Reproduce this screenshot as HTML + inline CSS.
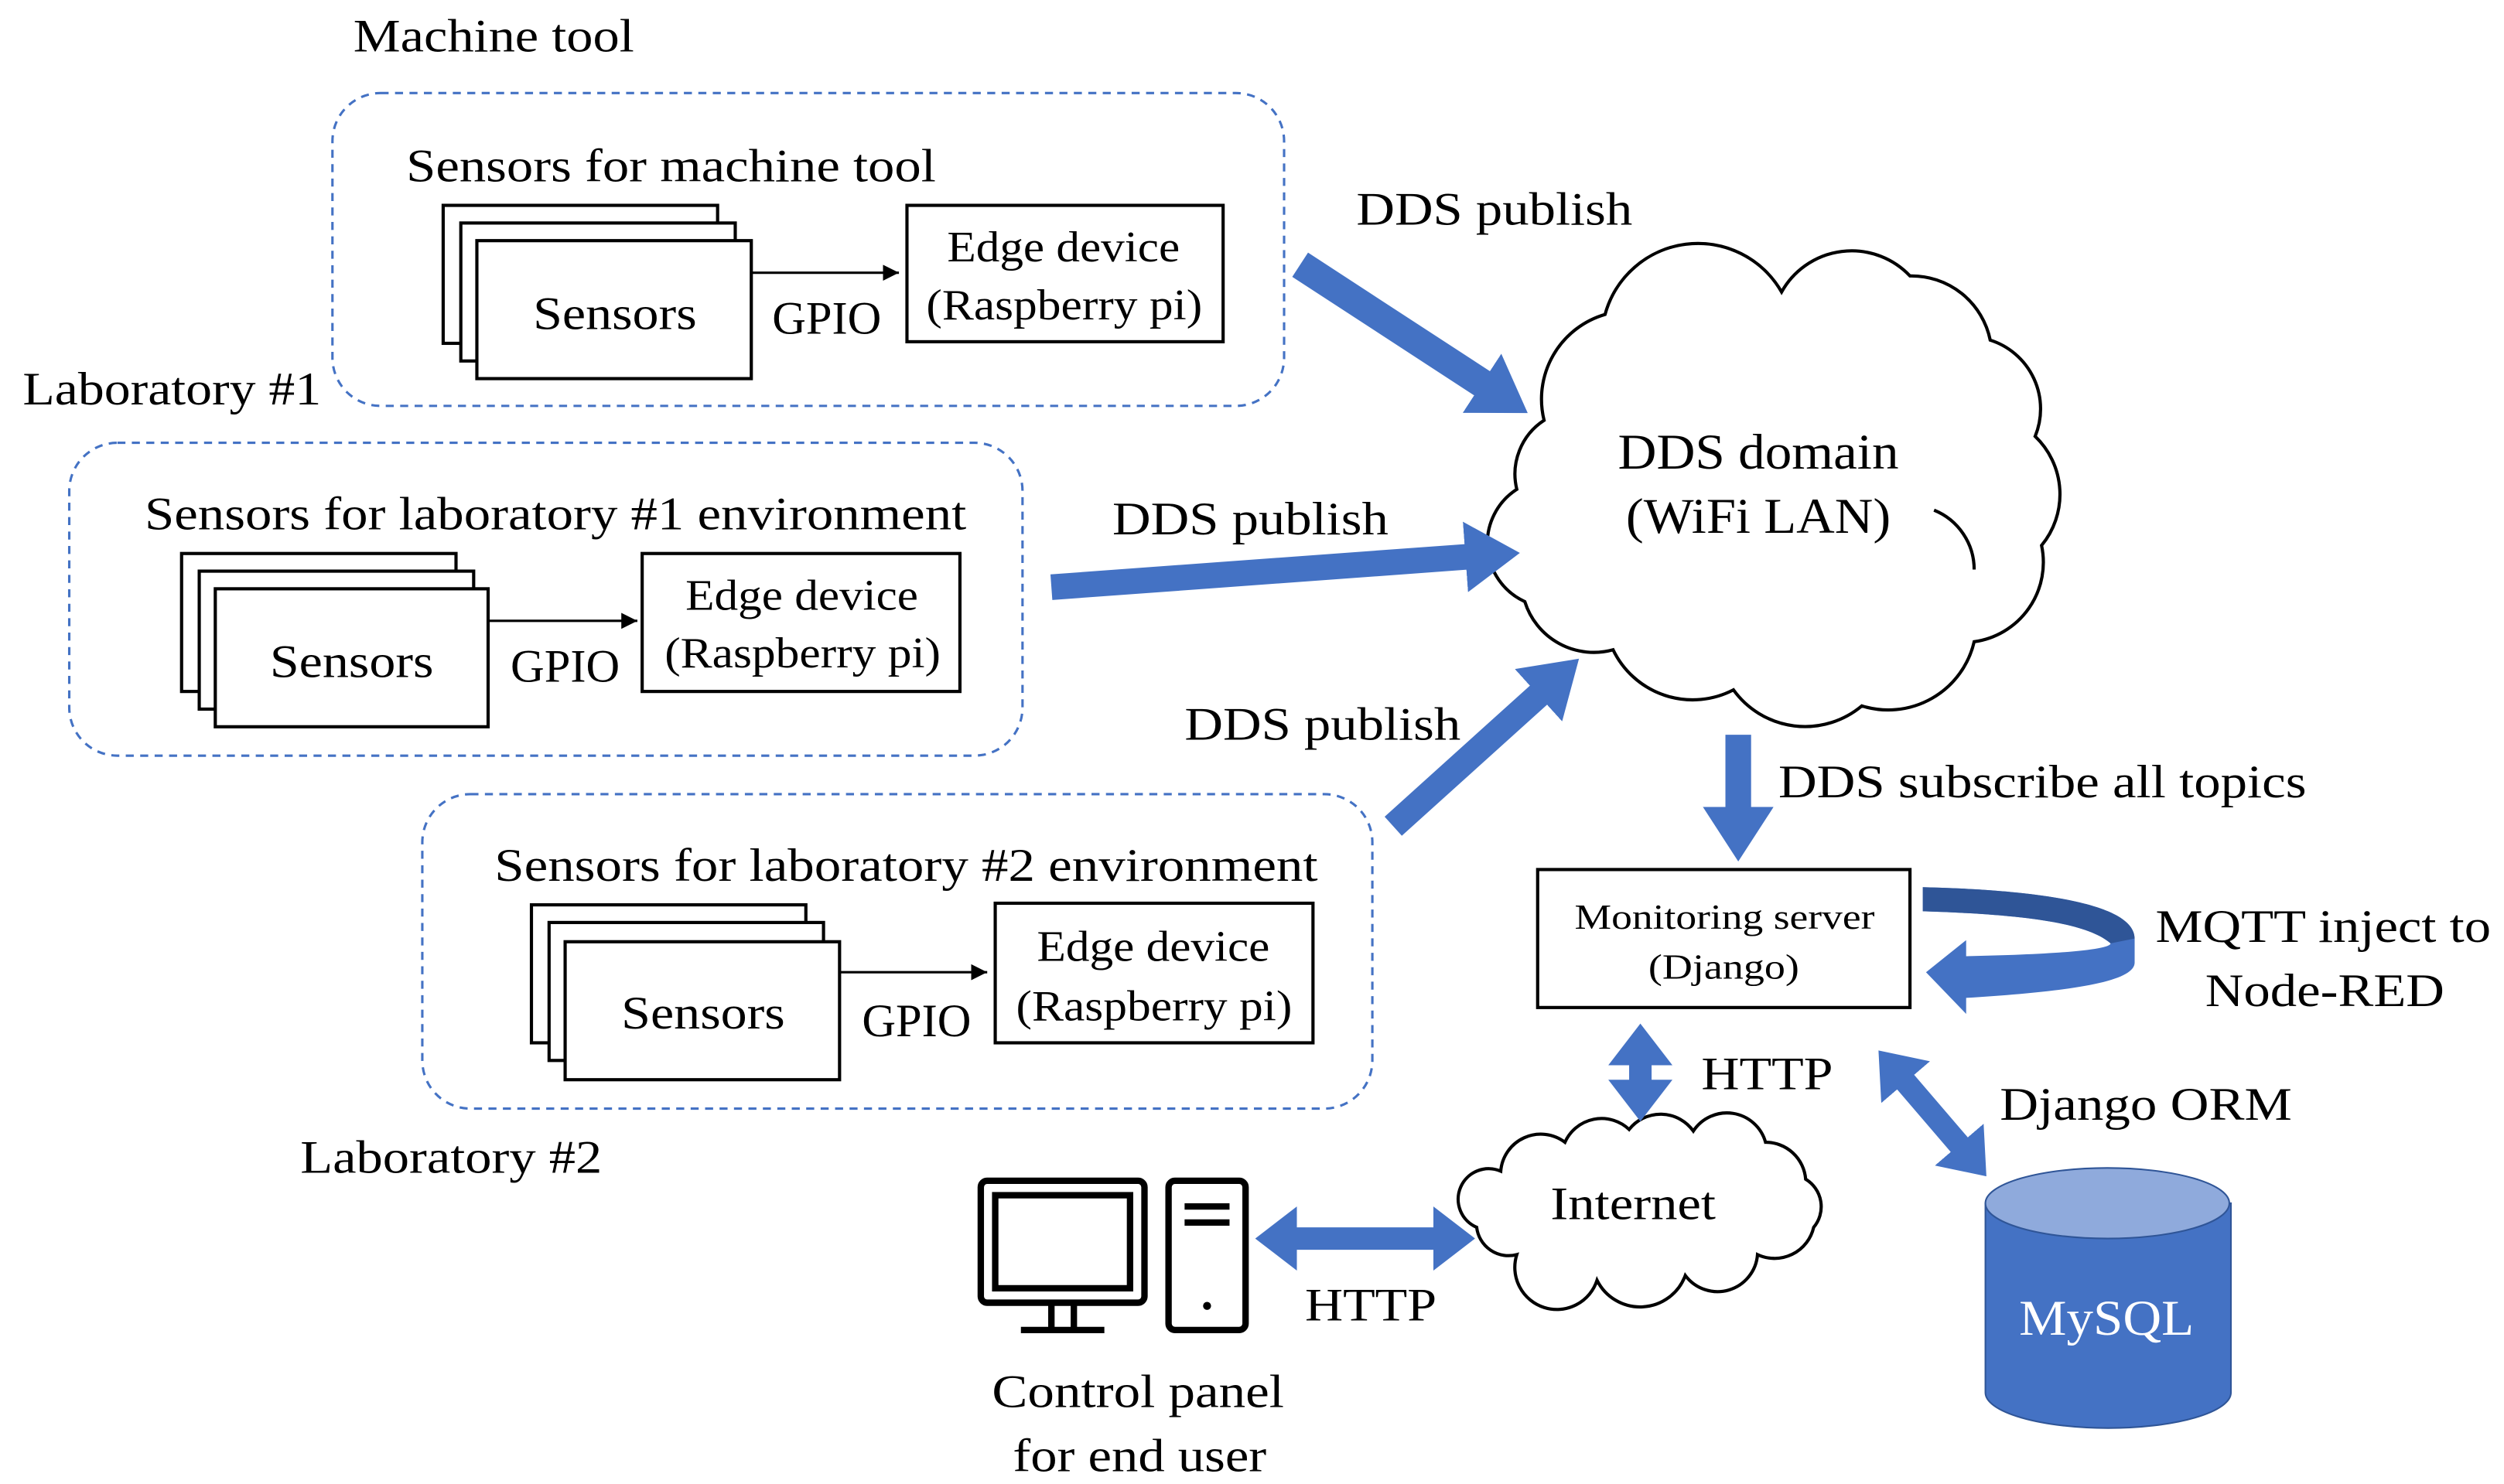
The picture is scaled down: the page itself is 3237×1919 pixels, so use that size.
<!DOCTYPE html>
<html><head><meta charset="utf-8"><style>html,body{margin:0;padding:0;background:#fff}svg{display:block}text{font-family:"Liberation Serif","Times New Roman",serif}</style></head>
<body>
<svg width="3237" height="1919" viewBox="0 0 1560 925" xmlns="http://www.w3.org/2000/svg" style="font-family:'Liberation Serif',serif">
<defs>
<marker id="bh" markerUnits="userSpaceOnUse" markerWidth="40" markerHeight="44" refX="2" refY="22" orient="auto-start-reverse"><path d="M0,0 L34,22 L0,44 Z" fill="#4472C4"/></marker>
<marker id="sh" markerUnits="userSpaceOnUse" markerWidth="30" markerHeight="40" refX="2" refY="20" orient="auto-start-reverse"><path d="M0,0 L26,20 L0,40 Z" fill="#4472C4"/></marker>
<marker id="ah" markerUnits="userSpaceOnUse" markerWidth="12" markerHeight="10" refX="10" refY="5" orient="auto"><path d="M0,0 L10,5 L0,10 Z" fill="#000"/></marker>
</defs>
<g font-size="29" fill="#000" lengthAdjust="spacingAndGlyphs">
<text x="220" y="32" textLength="175" lengthAdjust="spacingAndGlyphs">Machine tool</text>
<text x="14" y="252" textLength="186" lengthAdjust="spacingAndGlyphs">Laboratory #1</text>
<text x="187" y="731" textLength="188" lengthAdjust="spacingAndGlyphs">Laboratory #2</text>
</g>
<g fill="none" stroke="#4472C4" stroke-width="1.5" stroke-dasharray="5,4">
<rect x="207" y="58" width="593" height="195" rx="30"/>
<rect x="43" y="276" width="594" height="195" rx="30"/>
<rect x="263" y="495" width="592" height="196" rx="30"/>
</g>
<g stroke="#000" stroke-width="2" fill="#fff">
<rect x="276" y="128" width="171" height="86"/><rect x="287" y="139" width="171" height="86"/><rect x="297" y="150" width="171" height="86"/>
<rect x="565" y="128" width="197" height="85"/>
<rect x="113" y="345" width="171" height="86"/><rect x="124" y="356" width="171" height="86"/><rect x="134" y="367" width="170" height="86"/>
<rect x="400" y="345" width="198" height="86"/>
<rect x="331" y="564" width="171" height="86"/><rect x="342" y="575" width="171" height="86"/><rect x="352" y="587" width="171" height="86"/>
<rect x="620" y="563" width="198" height="87"/>
<rect x="958" y="542" width="232" height="86"/>
</g>
<g stroke="#000" stroke-width="1.5" marker-end="url(#ah)">
<line x1="468" y1="170" x2="560" y2="170"/>
<line x1="304" y1="387" x2="397" y2="387"/>
<line x1="523" y1="606" x2="615" y2="606"/>
</g>
<g font-size="29" fill="#000">
<text x="253" y="113" textLength="330" lengthAdjust="spacingAndGlyphs">Sensors for machine tool</text>
<text x="332" y="205" textLength="102" lengthAdjust="spacingAndGlyphs">Sensors</text>
<text x="481" y="208" textLength="68" lengthAdjust="spacingAndGlyphs">GPIO</text>
<text x="90" y="330" textLength="512" lengthAdjust="spacingAndGlyphs">Sensors for laboratory #1 environment</text>
<text x="168" y="422" textLength="102" lengthAdjust="spacingAndGlyphs">Sensors</text>
<text x="318" y="425" textLength="68" lengthAdjust="spacingAndGlyphs">GPIO</text>
<text x="308" y="549" textLength="513" lengthAdjust="spacingAndGlyphs">Sensors for laboratory #2 environment</text>
<text x="387" y="641" textLength="102" lengthAdjust="spacingAndGlyphs">Sensors</text>
<text x="537" y="646" textLength="68" lengthAdjust="spacingAndGlyphs">GPIO</text>
</g>
<g font-size="27" fill="#000">
<text x="590" y="163" textLength="145" lengthAdjust="spacingAndGlyphs">Edge device</text><text x="577" y="199" textLength="172" lengthAdjust="spacingAndGlyphs">(Raspberry pi)</text>
<text x="427" y="380" textLength="145" lengthAdjust="spacingAndGlyphs">Edge device</text><text x="414" y="416" textLength="172" lengthAdjust="spacingAndGlyphs">(Raspberry pi)</text>
<text x="646" y="599" textLength="145" lengthAdjust="spacingAndGlyphs">Edge device</text><text x="633" y="636" textLength="172" lengthAdjust="spacingAndGlyphs">(Raspberry pi)</text>
</g>
<g font-size="22"><text x="981" y="579" textLength="187" lengthAdjust="spacingAndGlyphs">Monitoring server</text><text x="1027" y="610" textLength="94" lengthAdjust="spacingAndGlyphs">(Django)</text></g>
<path d="M962,262 A55,55 0 0 1 1000,196 A60,60 0 0 1 1110,182 A50,50 0 0 1 1190,172 A50,50 0 0 1 1240,212 A45,45 0 0 1 1268,272 A50,50 0 0 1 1272,340 A50,50 0 0 1 1230,400 A55,55 0 0 1 1160,440 A55,55 0 0 1 1080,430 A55,55 0 0 1 1005,405 A45,45 0 0 1 950,375 A40,40 0 0 1 945,305 A40,40 0 0 1 962,262 Z" fill="#fff" stroke="#000" stroke-width="2"/>
<path d="M1205,318 A40,40 0 0 1 1230,355" fill="none" stroke="#000" stroke-width="2"/>
<g font-size="31"><text x="1008" y="292" textLength="175" lengthAdjust="spacingAndGlyphs">DDS domain</text><text x="1013" y="332" textLength="165" lengthAdjust="spacingAndGlyphs">(WiFi LAN)</text></g>
<path d="M935,730 A25,25 0 0 1 975,712 A25,25 0 0 1 1015,704 A25,25 0 0 1 1055,705 A25,25 0 0 1 1100,712 A25,25 0 0 1 1125,735 A20,20 0 0 1 1130,765 A25,25 0 0 1 1095,782 A25,25 0 0 1 1050,795 A30,30 0 0 1 995,798 A25,25 0 0 1 945,782 A20,20 0 0 1 920,765 A15,15 0 0 1 935,730 Z" fill="#fff" stroke="#000" stroke-width="2"/>
<text x="966" y="760" font-size="29" textLength="103" lengthAdjust="spacingAndGlyphs">Internet</text>
<g stroke="#4472C4" fill="none">
<line x1="810" y1="165" x2="925" y2="240" stroke-width="18" marker-end="url(#bh)"/>
<line x1="655" y1="366" x2="915" y2="347" stroke-width="16" marker-end="url(#bh)"/>
<line x1="868" y1="515" x2="960" y2="432" stroke-width="16" marker-end="url(#bh)"/>
<line x1="1083" y1="458" x2="1083" y2="505" stroke-width="16" marker-end="url(#bh)"/>
<line x1="1022" y1="662" x2="1022" y2="675" stroke-width="14" marker-start="url(#sh)" marker-end="url(#sh)"/>
<line x1="1186" y1="673" x2="1222" y2="715" stroke-width="14" marker-start="url(#sh)" marker-end="url(#sh)"/>
<line x1="806" y1="772" x2="895" y2="772" stroke-width="14" marker-start="url(#sh)" marker-end="url(#sh)"/>
</g>
<path d="M1198,553 C1280,555 1330,565 1330,585 L1330,600 C1330,612 1290,618 1225,622 L1225,632 L1200,606 L1225,586 L1225,596 C1280,595 1315,592 1315,588 C1300,575 1260,570 1198,568 Z" fill="#4472C4"/>
<path d="M1198,553 C1280,555 1330,565 1330,585 L1315,588 C1300,575 1260,570 1198,568 Z" fill="#2F5597"/>
<g font-size="29" fill="#000">
<text x="845" y="140" textLength="172" lengthAdjust="spacingAndGlyphs">DDS publish</text>
<text x="693" y="333" textLength="172" lengthAdjust="spacingAndGlyphs">DDS publish</text>
<text x="738" y="461" textLength="172" lengthAdjust="spacingAndGlyphs">DDS publish</text>
<text x="1108" y="497" textLength="329" lengthAdjust="spacingAndGlyphs">DDS subscribe all topics</text>
<text x="1343" y="587" textLength="209" lengthAdjust="spacingAndGlyphs">MQTT inject to</text>
<text x="1374" y="627" textLength="149" lengthAdjust="spacingAndGlyphs">Node-RED</text>
<text x="1060" y="679" textLength="82" lengthAdjust="spacingAndGlyphs">HTTP</text>
<text x="1246" y="698" textLength="182" lengthAdjust="spacingAndGlyphs">Django ORM</text>
<text x="813" y="823" textLength="82" lengthAdjust="spacingAndGlyphs">HTTP</text>
<text x="618" y="877" textLength="182" lengthAdjust="spacingAndGlyphs">Control panel</text>
<text x="631" y="917" textLength="158" lengthAdjust="spacingAndGlyphs">for end user</text>
</g>
<path d="M1237,750 L1237,868 A76,22 0 0 0 1390,868 L1390,750 Z" fill="#4472C4" stroke="#2F5597" stroke-width="1"/>
<ellipse cx="1313" cy="750" rx="76" ry="22" fill="#8FAADC" stroke="#2F5597" stroke-width="1"/>
<text x="1258" y="832" font-size="31" fill="#fff" textLength="109" lengthAdjust="spacingAndGlyphs">MySQL</text>
<g fill="none" stroke="#000" stroke-width="4">
<rect x="611" y="736" width="102" height="76" rx="4"/>
<rect x="620" y="745" width="84" height="58"/>
<line x1="655" y1="812" x2="655" y2="828"/><line x1="669" y1="812" x2="669" y2="828"/>
<line x1="636" y1="829" x2="688" y2="829"/>
<rect x="728" y="736" width="48" height="93" rx="4"/>
<line x1="738" y1="752" x2="766" y2="752"/><line x1="738" y1="762" x2="766" y2="762"/>
</g>
<circle cx="752" cy="814" r="2.5" fill="#000"/>
</svg>
</body></html>
